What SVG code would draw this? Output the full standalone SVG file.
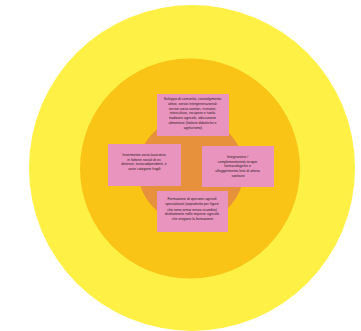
<svg xmlns="http://www.w3.org/2000/svg" width="361" height="331" viewBox="0 0 361 331">
  <style>
    .box { fill: #E994BE; }
    .lbl { font-family: "Liberation Sans", Arial, sans-serif; font-size: 3.5px; fill: #2a1a22; text-anchor: middle; }
  </style>
  <rect width="361" height="331" fill="#FFFFFF"/>
  <!-- concentric rings -->
  <g id="rings">
    <circle id="outer" cx="192" cy="168" r="163" fill="#FEF045"/>
    <circle id="middle" cx="190" cy="168.5" r="110" fill="#F9C416"/>
    <circle id="inner" cx="191" cy="170" r="53" fill="#E8913C"/>
  </g>
  <g id="connectors"/>
  <g id="node-top">
    <rect class="box" x="157" y="94" width="72" height="42"/>
    <text class="lbl">
      <tspan x="193" y="100">Sviluppo di comunità, coinvolgimento</tspan>
      <tspan x="193" y="104.8">attivo, servizi intergenerazionali</tspan>
      <tspan x="193" y="109.6">servizi socio-sanitari, ricreativi,</tspan>
      <tspan x="193" y="114.4">intercultura, recupero e tutela</tspan>
      <tspan x="193" y="119.2">tradizioni agricole, educazione</tspan>
      <tspan x="193" y="124">alimentare (fattorie didattiche e</tspan>
      <tspan x="193" y="128.8">agriturismo)</tspan>
    </text>
  </g>
  <g id="node-left">
    <rect class="box" x="108" y="144" width="73" height="42"/>
    <text class="lbl">
      <tspan x="144.5" y="156">Inserimento socio-lavorativo</tspan>
      <tspan x="144.5" y="160.7">in fattorie sociali di ex</tspan>
      <tspan x="144.5" y="165.4">detenuti, tossicodipendenti, e</tspan>
      <tspan x="144.5" y="170.1">varie categorie fragili</tspan>
    </text>
  </g>
  <g id="node-right">
    <rect class="box" x="202" y="146" width="72" height="41"/>
    <text class="lbl">
      <tspan x="238" y="158">Integrazione /</tspan>
      <tspan x="238" y="162.7">complementarietà terapie</tspan>
      <tspan x="238" y="167.4">farmacologiche e</tspan>
      <tspan x="238" y="172.1">alleggerimento liste di attesa</tspan>
      <tspan x="238" y="176.8">sanitarie</tspan>
    </text>
  </g>
  <g id="node-bottom">
    <rect class="box" x="157" y="191" width="71" height="41"/>
    <text class="lbl">
      <tspan x="192.5" y="200">Formazione di operatori agricoli</tspan>
      <tspan x="192.5" y="204.8">specializzati (soprattutto per figure</tspan>
      <tspan x="192.5" y="210.6">che sono ormai senza ricambio)</tspan>
      <tspan x="192.5" y="215.2">direttamente nelle imprese agricole</tspan>
      <tspan x="192.5" y="219.8">che erogano la formazione</tspan>
    </text>
  </g>
</svg>
